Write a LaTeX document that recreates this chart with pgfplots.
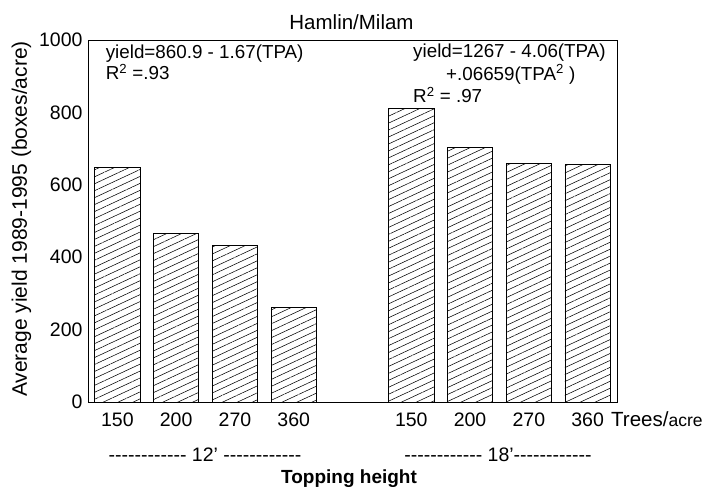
\documentclass[border=0pt]{standalone}
\usepackage{fontspec}
\setmainfont{Liberation Sans}
\usepackage{pgfplots}
\pgfplotsset{compat=1.18}
\usetikzlibrary{patterns.meta}
\newcommand{\dashrow}{-{}-{}-{}-{}-{}-{}-{}-{}-{}-{}-{}-}
\begin{document}
\begin{tikzpicture}
\useasboundingbox (0,0) rectangle (706pt,492pt);
\begin{axis}[
  at={(88pt,90pt)}, anchor=south west,
  width=529pt, height=362pt, scale only axis,
  xmin=-0.5, xmax=8.5, ymin=0, ymax=1000,
  ytick={0,200,...,1000},
  xtick={0,1,2,3,5,6,7,8},
  xticklabels={150,200,270,360,150,200,270,360},
  major tick length=0pt,
  /pgf/number format/assume math mode=true,
  /pgf/number format/1000 sep={},
  tick label style={font=\fontsize{19.5}{22}\selectfont},
  yticklabel style={xshift=-2pt},
  xticklabel style={yshift=-7pt},
  axis line style={line width=0.8pt},
  clip=false,
]
\addplot[ybar, bar width=0.77, draw=black, line width=0.8pt,
  pattern={Lines[angle=25, distance=6.3pt, line width=0.55pt]}]
  coordinates {(0,648) (1,465) (2,432) (3,262) (5,812) (6,703) (7,660) (8,656)};
\begin{scope}[every node/.style={font=\fontsize{18.8}{20}\selectfont, inner sep=0pt, anchor=west}]
\node at (axis cs:-0.2,963) {yield=860.9 - 1.67(TPA)};
\node at (axis cs:-0.2,912) {R\textsuperscript{2} =.93};
\node at (axis cs:5.03,964) {yield=1267 - 4.06(TPA)};
\node at (axis cs:5.59,905) {+.06659(TPA\textsuperscript{2} )};
\node at (axis cs:5.03,848) {R\textsuperscript{2} = .97};
\end{scope}
\end{axis}
\node[font=\fontsize{20.5}{22}\selectfont] at (351.5pt,470pt) {Hamlin/Milam};
\node[font=\fontsize{21}{22}\selectfont, rotate=90] at (21.5pt,273pt) {Average yield 1989-1995 (boxes/acre)};
\node[font=\fontsize{19.5}{22}\selectfont] at (205pt,37pt) {\dashrow\ 12' \dashrow};
\node[font=\fontsize{19.5}{22}\selectfont] at (498pt,37pt) {\dashrow\ 18'\dashrow};
\node[font=\bfseries\fontsize{19}{20}\selectfont] at (349pt,13pt) {Topping height};
\node[anchor=base west, inner sep=0pt] at (611pt,65pt) {\fontsize{20.5}{22}\selectfont Trees/\fontsize{17.5}{20}\selectfont acre};
\end{tikzpicture}
\end{document}
